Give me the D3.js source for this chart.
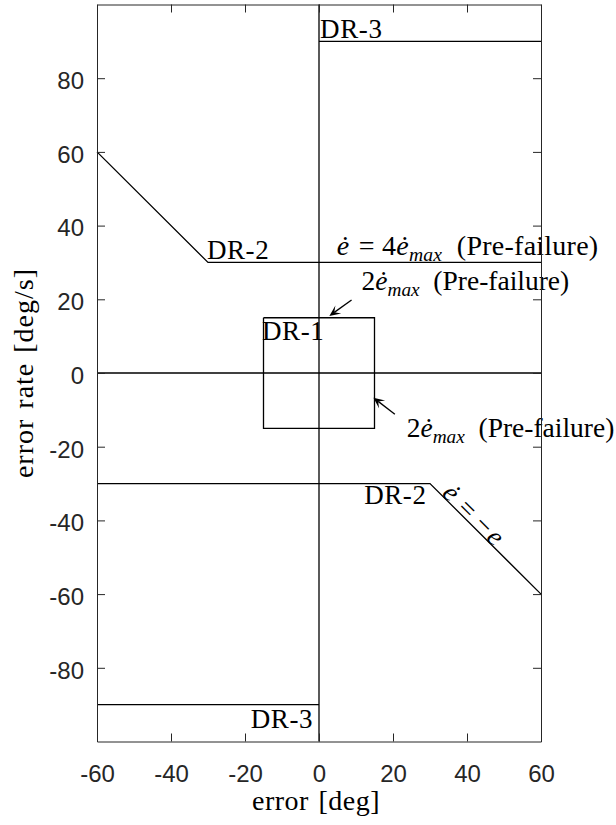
<!DOCTYPE html>
<html>
<head>
<meta charset="utf-8">
<script src="https://cdn.jsdelivr.net/npm/d3@7"></script>
<style>
  html, body { margin: 0; padding: 0; background: #fff; }
  svg { display: block; }
  text { white-space: pre; }
</style>
</head>
<body>
<svg id="chart" width="616" height="825"></svg>
<script>
// Axis domains and ticks
const xDomain = [-60, 60];
const yDomain = [-100, 100];
const xTicks = [-60, -40, -20, 0, 20, 40, 60];
const yTicks = [-80, -60, -40, -20, 0, 20, 40, 60, 80];

// Region boundaries in the (error, error rate) plane
const eAxisX = [-60, 60],   eAxisY = [0, 0];
const edAxisX = [0, 0],     edAxisY = [-100, 100];
const dr3UpperX = [0, 60],  dr3UpperY = [90, 90];
const dr3LowerX = [-60, 0], dr3LowerY = [-90, -90];
const dr2UpperX = [-60, -30, 60], dr2UpperY = [60, 30, 30];
const dr2LowerX = [-60, 30, 60],  dr2LowerY = [-30, -30, -60];
const dr1X = [-15, 15, 15, -15, -15], dr1Y = [15, 15, -15, -15, 15];

// Region names and where they sit (data units)
const regionNames = ["DR-3", "DR-2", "DR-1", "DR-2", "DR-3"];
const regionX = [0.3, -30.3, -15.4, 12.2, -1.6];
const regionY = [91, 31, 9, -35.5, -96.3];
const regionAnchor = ["start", "start", "start", "start", "end"];

// Annotation arrows (tail -> tip, data units)
const arrowTailX = [8.8, 20.5], arrowTailY = [19.8, -11.2];
const arrowTipX = [2.8, 14.7],  arrowTipY = [15.5, -6.7];

// Equation labels
const eqX = [4.8, 11.5, 23.7];
const eqY = [32.0, 22.5, -17.3];
const eqSize = [28, 27.5, 27.5];
const eqSpacing = [0.25, 0, 0];
const eqParts = [
  [{t: "ė", it: true}, {t: " = 4", dx: 2}, {t: "ė", it: true}, {t: "max", it: true, sub: true}, {t: "  (Pre-failure)"}],
  [{t: "2"}, {t: "ė", it: true}, {t: "max", it: true, sub: true}, {t: "  (Pre-failure)"}],
  [{t: "2"}, {t: "ė", it: true}, {t: "max", it: true, sub: true}, {t: "  (Pre-failure)"}]
];
// Slanted label along the lower DR-2 ramp
const slantX = 33, slantY = -33;
const slantParts = [{t: "ė", it: true}, {t: "=", dx: 9}, {t: "−", dx: 8}, {t: "e", it: true, dx: 3}];

const W = 616, H = 825;
const svg = d3.select("#chart");
svg.append("rect").attr("width", W).attr("height", H).attr("fill", "#fff");

const x = d3.scaleLinear(xDomain, [97, 541]);
const y = d3.scaleLinear(yDomain, [741.5, 4.5]);

const serif = "'Liberation Serif', 'Times New Roman', serif";
const sans = "'Liberation Sans', Arial, Helvetica, sans-serif";
const axisColor = "#262626";

const line = d3.line().x(d => x(d[0])).y(d => y(d[1]));
const series = [
  [eAxisX, eAxisY], [edAxisX, edAxisY],
  [dr3UpperX, dr3UpperY], [dr3LowerX, dr3LowerY],
  [dr2UpperX, dr2UpperY], [dr2LowerX, dr2LowerY],
  [dr1X, dr1Y]
];
const gLines = svg.append("g");
series.forEach(([xs, ys]) => {
  gLines.append("path")
    .attr("d", line(xs.map((v, i) => [v, ys[i]])))
    .attr("fill", "none")
    .attr("stroke", "#000")
    .attr("stroke-width", 1.3)
    .attr("stroke-linejoin", "miter");
});

// Rich text helper: italic runs and subscripts
function richText(g, px, py, parts, size, spacing) {
  const t = g.append("text")
    .attr("x", px).attr("y", py)
    .attr("font-family", serif)
    .attr("font-size", size)
    .attr("letter-spacing", spacing || 0)
    .attr("fill", "#000");
  let shifted = false;
  const shift = size * 0.22;
  parts.forEach(p => {
    const s = t.append("tspan").text(p.t);
    if (p.it) s.attr("font-style", "italic");
    if (p.dx) s.attr("dx", p.dx);
    if (p.sub) {
      s.attr("font-size", size * 0.7).attr("dy", shifted ? 0 : shift);
      shifted = true;
    } else if (shifted) {
      s.attr("dy", -shift);
      shifted = false;
    }
  });
  return t;
}

const gText = svg.append("g");
regionNames.forEach((name, i) => {
  gText.append("text")
    .attr("x", x(regionX[i])).attr("y", y(regionY[i]))
    .attr("text-anchor", regionAnchor[i])
    .attr("font-family", serif)
    .attr("font-size", 27)
    .attr("letter-spacing", 0.6)
    .attr("fill", "#000")
    .text(name);
});

eqParts.forEach((parts, i) => {
  richText(gText, x(eqX[i]), y(eqY[i]), parts, eqSize[i], eqSpacing[i]);
});

// Slanted label follows the ramp's on-screen angle
const ang = Math.atan2(y(-60) - y(-30), x(60) - x(30)) * 180 / Math.PI;
const sl = richText(gText, 0, 0, slantParts, 27);
sl.attr("transform", `translate(${x(slantX)},${y(slantY)}) rotate(${ang})`);

// Arrows with barbed heads
const gArrows = svg.append("g");
arrowTailX.forEach((_, i) => {
  const x0 = x(arrowTailX[i]), y0 = y(arrowTailY[i]);
  const x1 = x(arrowTipX[i]),  y1 = y(arrowTipY[i]);
  const dx = x1 - x0, dy = y1 - y0, len = Math.hypot(dx, dy);
  const ux = dx / len, uy = dy / len, nx = -uy, ny = ux;
  const L = 11, Wd = 10, notch = 0.55;
  gArrows.append("line")
    .attr("x1", x0).attr("y1", y0)
    .attr("x2", x1 - ux * L * notch).attr("y2", y1 - uy * L * notch)
    .attr("stroke", "#000").attr("stroke-width", 1.3);
  const pts = [
    [x1, y1],
    [x1 - ux * L + nx * Wd / 2, y1 - uy * L + ny * Wd / 2],
    [x1 - ux * L * notch, y1 - uy * L * notch],
    [x1 - ux * L - nx * Wd / 2, y1 - uy * L - ny * Wd / 2]
  ];
  gArrows.append("polygon")
    .attr("points", pts.map(p => p.join(",")).join(" "))
    .attr("fill", "#000");
});

// Axes box with inward ticks
function styleAxis(g) {
  g.selectAll(".domain").attr("stroke", axisColor).attr("stroke-width", 1);
  g.selectAll(".tick line").attr("stroke", axisColor).attr("stroke-width", 1);
  g.selectAll(".tick text").attr("fill", axisColor).attr("font-family", sans).attr("font-size", 24);
}
const fmt = d => String(d).replace("−", "-");
const tick = 8;
svg.append("g").attr("transform", `translate(0,${y(-100)})`)
  .call(d3.axisBottom(x).tickValues(xTicks).tickSize(-tick).tickSizeOuter(0).tickPadding(23).tickFormat(fmt))
  .call(styleAxis);
svg.append("g").attr("transform", `translate(0,${y(100)})`)
  .call(d3.axisTop(x).tickValues(xTicks).tickSize(-tick).tickSizeOuter(0).tickFormat(""))
  .call(styleAxis);
const gLeft = svg.append("g").attr("transform", `translate(${x(-60)},0)`)
  .call(d3.axisLeft(y).tickValues(yTicks).tickSize(-tick).tickSizeOuter(0).tickPadding(13).tickFormat(fmt))
  .call(styleAxis);
gLeft.selectAll(".tick text").attr("dy", "0.43em");
svg.append("g").attr("transform", `translate(${x(60)},0)`)
  .call(d3.axisRight(y).tickValues(yTicks).tickSize(-tick).tickSizeOuter(0).tickFormat(""))
  .call(styleAxis);

// Axis titles
svg.append("text")
  .attr("x", x(0) - 3).attr("y", 810)
  .attr("text-anchor", "middle")
  .attr("font-family", serif).attr("font-size", 28)
  .attr("letter-spacing", 0.5).attr("word-spacing", 2)
  .attr("fill", "#000")
  .text("error [deg]");
svg.append("text")
  .attr("transform", `translate(33,${y(0)}) rotate(-90)`)
  .attr("text-anchor", "middle")
  .attr("font-family", serif).attr("font-size", 28)
  .attr("letter-spacing", 1).attr("word-spacing", 2)
  .attr("fill", "#000")
  .text("error rate [deg/s]");
</script>
</body>
</html>
